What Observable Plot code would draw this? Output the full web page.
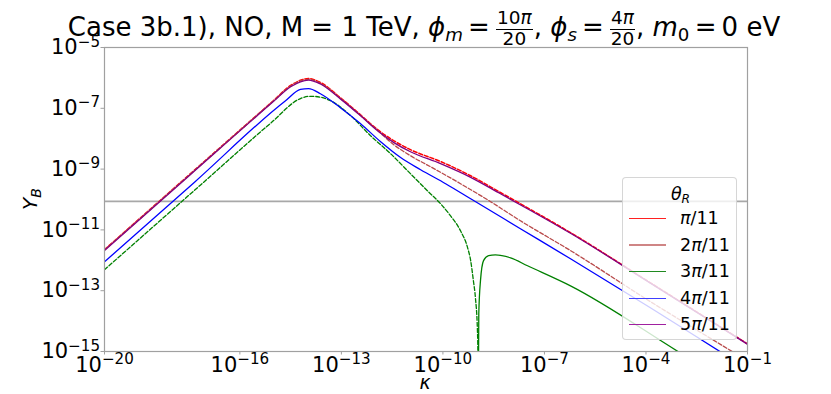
<!DOCTYPE html>
<html>
<head>
<meta charset="utf-8">
<script src="https://cdn.jsdelivr.net/npm/d3@7"></script>
<script src="https://cdn.jsdelivr.net/npm/@observablehq/plot@0.6"></script>
<style>
  body { margin: 0; background: #fff; }
  #wrap { position: relative; width: 831px; height: 394px; font-family: "DejaVu Sans"; color: #000; }
  #title { position: absolute; left: 0; top: 14px; width: 848px; text-align: center; font-size: 26px; line-height: 26px; white-space: nowrap; }
  .frac { display: inline-flex; flex-direction: column; align-items: center; font-size: 18.5px; line-height: 18.5px; position: relative; top: -12px; margin: 0 1px; }
  .frac .n { border-bottom: 1.3px solid #000; padding: 0 1px 1px 1px; }
  .sub { font-size: 0.7em; position: relative; top: 0.28em; }
  .eq { margin: 0 0.2em; }
  #legend { position: absolute; left: 622px; top: 177px; width: 115px; height: 163px; box-sizing: border-box;
            border: 1px solid rgba(204,204,204,0.8); border-radius: 4px; background: rgba(255,255,255,0.8); font-size: 17.5px; }
  #legend .lt { position: absolute; left: 0; width: 115px; text-align: center; top: 6px; line-height: 20px; }
  #legend .sw { position: absolute; left: 6px; width: 37px; height: 0; }
  #legend .lb { position: absolute; left: 57px; line-height: 20px; white-space: nowrap; }
</style>
</head>
<body>
<div id="wrap"></div>
<script>
// ---- data (log10 values) ----
const xTickExp = [-20, -16, -13, -10, -7, -4, -1];
const yTickExp = [-15, -13, -11, -9, -7, -5];
const observedYB = 8.7e-11;

const legendLabels = ["π/11", "2π/11", "3π/11", "4π/11", "5π/11"];

// θR = π/11 (dashed)
const logK_1 = [-20, -17.49, -15.01, -14.50, -13.97, -13.62, -13.03, -12.44, -11.93, -11.46, -10.96, -10.07, -9.18, -8.30, -7.41, -6.23, -3.87, -1.0];
const logY_1 = [-11.65, -9.18, -6.75, -6.25, -6.02, -6.15, -6.65, -7.21, -7.70, -8.06, -8.36, -8.75, -9.22, -9.77, -10.33, -11.09, -12.74, -14.75];
// θR = 2π/11 (dashed)
const logK_2 = [-20, -17.49, -15.01, -14.50, -13.97, -13.62, -13.03, -12.44, -11.93, -11.46, -10.96, -10.37, -9.48, -8.68, -7.71, -6.23, -3.87, -1.44, -1.0];
const logY_2 = [-11.66, -9.19, -6.76, -6.27, -6.05, -6.18, -6.67, -7.23, -7.73, -8.19, -8.56, -8.92, -9.48, -10.01, -10.70, -11.68, -13.36, -15.01, -15.31];
// θR = 3π/11, negative branch (dashed)
const logK_3neg = [-20, -17.16, -15.09, -14.21, -13.97, -13.82, -13.32, -12.73, -12.14, -11.55, -10.96, -10.46, -10.07, -9.78, -9.48, -9.27, -9.18, -9.10, -9.04, -8.98, -8.963, -8.958];
const logY_3neg = [-12.31, -9.52, -7.49, -6.68, -6.61, -6.61, -6.75, -7.24, -7.90, -8.49, -9.15, -9.71, -10.14, -10.53, -11.03, -11.59, -12.01, -12.67, -13.23, -14.32, -15.31, -16.6];
// θR = 3π/11, positive branch (solid)
const logK_3pos = [-8.955, -8.94, -8.89, -8.80, -8.65, -8.45, -8.00, -7.50, -6.23, -3.04, -2.5];
const logY_3pos = [-16.6, -13.76, -12.67, -12.01, -11.85, -11.82, -11.92, -12.18, -12.84, -15.01, -15.38];
// θR = 4π/11 (solid)
const logK_4 = [-20, -17.34, -14.65, -14.21, -13.97, -13.62, -13.03, -12.44, -11.84, -11.25, -10.66, -9.92, -9.13, -7.71, -6.23, -3.87, -1.80, -1.0];
const logY_4 = [-12.05, -9.43, -6.75, -6.38, -6.35, -6.52, -6.98, -7.50, -8.10, -8.62, -9.02, -9.48, -10.01, -10.96, -11.95, -13.56, -15.01, -15.57];
// θR = 5π/11 (solid)
const logK_5 = [-20, -17.49, -15.01, -14.50, -13.97, -13.62, -13.03, -12.44, -11.93, -11.46, -10.96, -10.07, -9.18, -8.30, -7.41, -6.23, -3.87, -1.0];
const logY_5 = [-11.68, -9.21, -6.78, -6.29, -6.07, -6.20, -6.69, -7.24, -7.74, -8.12, -8.43, -8.82, -9.27, -9.81, -10.36, -11.11, -12.75, -14.76];

// ---- styles ----
const colors = ["#ff0000", "#b84a4a", "#008000", "#0000ff", "#800080"];
const dash = "4,2";

const toRows = (lk, ly) => lk.map((k, i) => ({kappa: 10 ** k, yb: 10 ** ly[i]}));

const lineOpts = (stroke, extra = {}) => ({x: "kappa", y: "yb", stroke, strokeWidth: 1.3, curve: "monotone-x", clip: true, ...extra});

const fmt = d => "10^" + Math.round(Math.log10(d));

const chart = Plot.plot({
  width: 831,
  height: 394,
  marginLeft: 104,
  marginRight: 84,
  marginTop: 47,
  marginBottom: 43,
  style: {fontFamily: '"DejaVu Sans"', fontSize: "21px", color: "black", background: "white"},
  x: {type: "log", domain: [1e-20, 1e-1]},
  y: {type: "log", domain: [1e-15, 1e-5]},
  marks: [
    Plot.ruleY([observedYB], {stroke: "#a8a8a8", strokeWidth: 1.6}),
    Plot.line(toRows(logK_1, logY_1), lineOpts(colors[0], {strokeDasharray: dash, strokeWidth: 1.5})),
    Plot.line(toRows(logK_2, logY_2), lineOpts(colors[1], {strokeDasharray: dash})),
    Plot.line(toRows(logK_3neg, logY_3neg), lineOpts(colors[2], {strokeDasharray: dash})),
    Plot.line(toRows(logK_3pos, logY_3pos), lineOpts(colors[2])),
    Plot.line(toRows(logK_4, logY_4), lineOpts(colors[3])),
    Plot.line(toRows(logK_5, logY_5), lineOpts(colors[4])),
    Plot.frame({stroke: "#a0a0a0", strokeWidth: 1.2}),
    Plot.axisX({ticks: xTickExp.map(e => 10 ** e), tickSize: 3.5, tickPadding: 2, tickFormat: fmt, stroke: "#a0a0a0", color: "black", fontSize: 21, label: null}),
    Plot.axisY({ticks: yTickExp.map(e => 10 ** e), tickSize: 3.5, tickPadding: 1, tickFormat: fmt, stroke: "#a0a0a0", color: "black", fontSize: 21, label: null})
  ]
});

// superscript exponents in tick labels
d3.select(chart).selectAll('g[aria-label="x-axis tick label"] text, g[aria-label="y-axis tick label"] text').each(function () {
  const m = this.textContent.match(/^10\^(-?\d+)$/);
  if (!m) return;
  const e = +m[1];
  const t = d3.select(this);
  t.text(null);
  t.append("tspan").text("10");
  t.append("tspan").attr("dy", "-0.5em").attr("font-size", "0.72em").text((e < 0 ? "\u2212" : "") + Math.abs(e));
});

// axis labels
const svg = d3.select(chart);
const yl = svg.append("text").attr("transform", "translate(37,199) rotate(-90)").attr("text-anchor", "middle")
  .attr("font-size", 20).attr("font-family", "DejaVu Sans");
yl.append("tspan").attr("font-style", "italic").text("Y");
yl.append("tspan").attr("font-style", "italic").attr("font-size", 14).attr("dy", 4).text("B");
svg.append("text").attr("x", 425).attr("y", 389).attr("text-anchor", "middle").attr("font-size", 19)
  .attr("font-family", "DejaVu Sans").attr("font-style", "italic").text("κ");

const wrap = document.getElementById("wrap");
wrap.appendChild(chart);

// title
const title = document.createElement("div");
title.id = "title";
title.innerHTML = 'Case 3b.1), NO, M = 1 TeV, <i>ϕ</i><span class="sub"><i>m</i></span><span class="eq">=</span>' +
  '<span class="frac"><span class="n">10<i>π</i></span><span class="d">20</span></span>, ' +
  '<i>ϕ</i><span class="sub"><i>s</i></span><span class="eq">=</span>' +
  '<span class="frac"><span class="n">4<i>π</i></span><span class="d">20</span></span>, ' +
  '<i>m</i><span class="sub">0</span><span class="eq">=</span>0 eV';
wrap.appendChild(title);

// legend
const legend = document.createElement("div");
legend.id = "legend";
let html = '<div class="lt"><i>θ</i><span class="sub"><i>R</i></span></div>';
const swWidth = [1.3, 2.6, 1.3, 1.5, 1.5];
const swColor = ["#ff2020", "#cf8585", "#208a20", "#4040ff", "#a020a0"];
legendLabels.forEach((lab, i) => {
  const cy = 41 + i * 26.5;
  html += `<div class="sw" style="top:${cy - swWidth[i] / 2}px;border-top:${swWidth[i]}px solid ${swColor[i]}"></div>`;
  html += `<div class="lb" style="top:${cy - 11}px">${lab.replace("π", "<i>π</i>")}</div>`;
});
legend.innerHTML = html;
wrap.appendChild(legend);
</script>
</body>
</html>
